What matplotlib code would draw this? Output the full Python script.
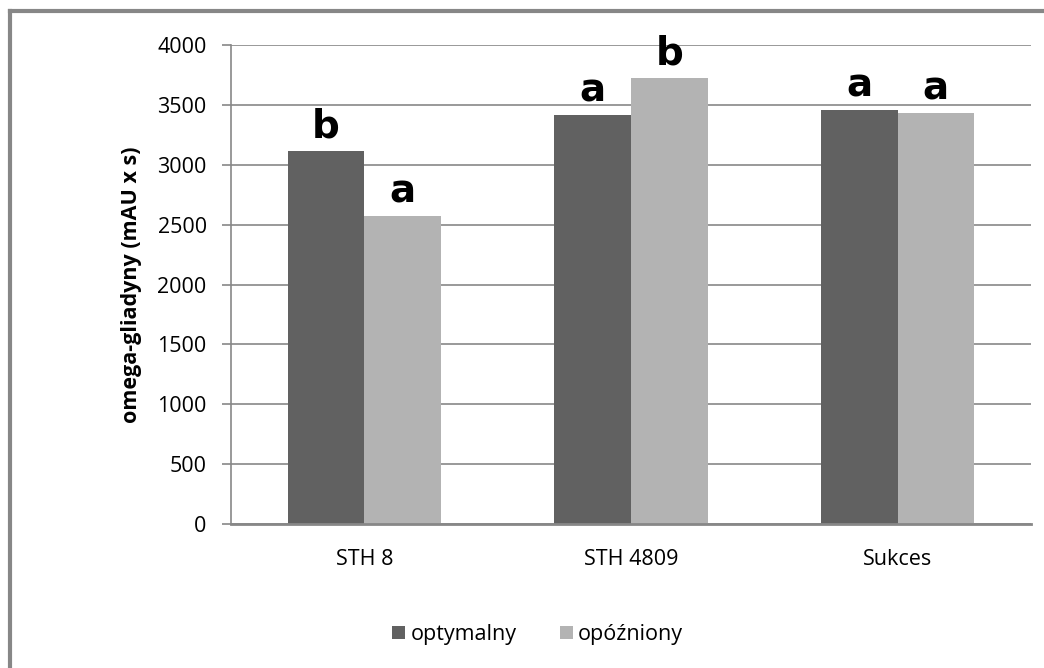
import numpy as np
import matplotlib.pyplot as plt
from matplotlib.lines import Line2D

odmiany = ["STH 8", "STH 4809", "Sukces"]
optymalny = [3115, 3415, 3457]
opozniony = [2572, 3724, 3432]
litery_opt = ["b", "a", "a"]
litery_opo = ["a", "b", "a"]
serie = ["optymalny", "opóźniony"]

plt.rcParams['font.family'] = ['Open Sans', 'DejaVu Sans']

fig = plt.figure(figsize=(10.44, 6.68), dpi=100)
ax = fig.add_axes([0.2213, 0.2156, 0.7662, 0.717])

x = np.arange(len(odmiany))
w = 0.287
ax.bar(x - w/2, optymalny, w, color="#616161", label=serie[0], zorder=2)
ax.bar(x + w/2, opozniony, w, color="#b3b3b3", label=serie[1], zorder=2)

for i in range(len(odmiany)):
    ax.text(x[i] - w/2, optymalny[i] + 45, litery_opt[i], ha="center", va="bottom",
            fontsize=28, fontweight="bold", family="DejaVu Sans")
    ax.text(x[i] + w/2, opozniony[i] + 45, litery_opo[i], ha="center", va="bottom",
            fontsize=28, fontweight="bold", family="DejaVu Sans")

ax.set_xlim(-0.5, 2.5)
ax.set_ylim(0, 4000)
ax.set_yticks(range(0, 4001, 500))
ax.set_xticks(x)
ax.set_xticklabels(odmiany, fontsize=15.5)
ax.tick_params(axis="y", labelsize=15.5, length=6.5, color="#878787", width=1.2, pad=11)
ax.tick_params(axis="x", length=0, pad=18)
ax.yaxis.grid(True, color="#878787", linewidth=1.2, zorder=0)
ax.set_axisbelow(True)
for s in ["top", "right"]:
    ax.spines[s].set_visible(False)
ax.spines["left"].set_color("#878787")
ax.spines["left"].set_linewidth(1.2)
ax.spines["bottom"].set_color("#878787")
ax.spines["bottom"].set_linewidth(2)
ax.spines["bottom"].set_zorder(3)

ax.set_ylabel("omega-gliadyny (mAU x s)", fontsize=15.5, fontweight="bold")
ax.yaxis.set_label_coords(-0.111, 0.5)

leg = fig.legend(loc="center", bbox_to_anchor=(0.515, 0.05), ncol=2, frameon=False,
                 fontsize=15.5, handlelength=0.6, handleheight=0.6, handletextpad=0.25,
                 columnspacing=2.0)

# ramka wykresu (tylko lewa i gorna krawedz widoczna)
fig.add_artist(Line2D([0.0091, 0.0091], [0, 0.9835], transform=fig.transFigure,
                      color="#878787", linewidth=3))
fig.add_artist(Line2D([0.0091, 1.0], [0.9835, 0.9835], transform=fig.transFigure,
                      color="#878787", linewidth=3))

plt.savefig("out.png", dpi=100)
